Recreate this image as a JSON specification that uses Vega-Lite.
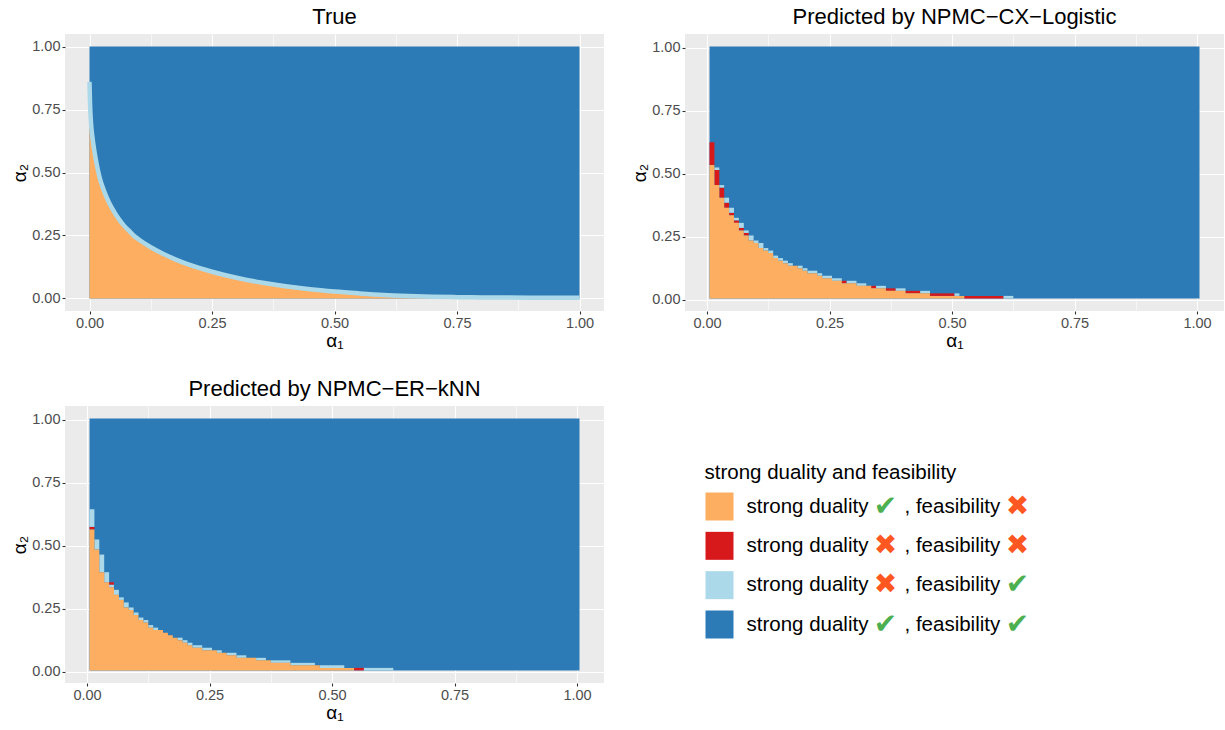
{
  "$schema": "https://vega.github.io/schema/vega-lite/v6.json",
  "background": "white",
  "padding": {"left": 10, "top": 6, "right": 0, "bottom": 0},
  "datasets": {
    "tiles": [
      {"p":"True","x0":0,"x1":1,"y0":0,"y1":1,"c":"both"},
      {"p":"CX","x0":0.005,"x1":1.005,"y0":0.005,"y1":1.005,"c":"both"},
      {"p":"CX","x0":0.005,"x1":0.015,"y0":0.535,"y1":0.625,"c":"none"},
      {"p":"CX","x0":0.015,"x1":0.025,"y0":0.455,"y1":0.515,"c":"none"},
      {"p":"CX","x0":0.025,"x1":0.035,"y0":0.405,"y1":0.445,"c":"none"},
      {"p":"CX","x0":0.035,"x1":0.045,"y0":0.365,"y1":0.385,"c":"none"},
      {"p":"CX","x0":0.045,"x1":0.055,"y0":0.335,"y1":0.345,"c":"none"},
      {"p":"CX","x0":0.055,"x1":0.065,"y0":0.305,"y1":0.315,"c":"none"},
      {"p":"CX","x0":0.065,"x1":0.075,"y0":0.275,"y1":0.285,"c":"none"},
      {"p":"CX","x0":0.075,"x1":0.085,"y0":0.255,"y1":0.265,"c":"none"},
      {"p":"CX","x0":0.275,"x1":0.285,"y0":0.065,"y1":0.075,"c":"none"},
      {"p":"CX","x0":0.335,"x1":0.345,"y0":0.045,"y1":0.055,"c":"none"},
      {"p":"CX","x0":0.365,"x1":0.385,"y0":0.035,"y1":0.045,"c":"none"},
      {"p":"CX","x0":0.405,"x1":0.435,"y0":0.025,"y1":0.035,"c":"none"},
      {"p":"CX","x0":0.455,"x1":0.505,"y0":0.015,"y1":0.025,"c":"none"},
      {"p":"CX","x0":0.525,"x1":0.605,"y0":0.005,"y1":0.015,"c":"none"},
      {"p":"CX","x0":0.015,"x1":0.025,"y0":0.515,"y1":0.525,"c":"feas"},
      {"p":"CX","x0":0.025,"x1":0.035,"y0":0.445,"y1":0.455,"c":"feas"},
      {"p":"CX","x0":0.035,"x1":0.045,"y0":0.385,"y1":0.405,"c":"feas"},
      {"p":"CX","x0":0.045,"x1":0.055,"y0":0.345,"y1":0.365,"c":"feas"},
      {"p":"CX","x0":0.055,"x1":0.065,"y0":0.315,"y1":0.325,"c":"feas"},
      {"p":"CX","x0":0.065,"x1":0.075,"y0":0.285,"y1":0.305,"c":"feas"},
      {"p":"CX","x0":0.075,"x1":0.085,"y0":0.265,"y1":0.275,"c":"feas"},
      {"p":"CX","x0":0.085,"x1":0.095,"y0":0.235,"y1":0.255,"c":"feas"},
      {"p":"CX","x0":0.095,"x1":0.105,"y0":0.225,"y1":0.235,"c":"feas"},
      {"p":"CX","x0":0.105,"x1":0.115,"y0":0.205,"y1":0.225,"c":"feas"},
      {"p":"CX","x0":0.115,"x1":0.125,"y0":0.195,"y1":0.205,"c":"feas"},
      {"p":"CX","x0":0.125,"x1":0.135,"y0":0.185,"y1":0.195,"c":"feas"},
      {"p":"CX","x0":0.135,"x1":0.145,"y0":0.165,"y1":0.175,"c":"feas"},
      {"p":"CX","x0":0.145,"x1":0.155,"y0":0.155,"y1":0.165,"c":"feas"},
      {"p":"CX","x0":0.155,"x1":0.165,"y0":0.145,"y1":0.155,"c":"feas"},
      {"p":"CX","x0":0.165,"x1":0.175,"y0":0.135,"y1":0.145,"c":"feas"},
      {"p":"CX","x0":0.185,"x1":0.195,"y0":0.125,"y1":0.135,"c":"feas"},
      {"p":"CX","x0":0.195,"x1":0.205,"y0":0.115,"y1":0.125,"c":"feas"},
      {"p":"CX","x0":0.205,"x1":0.225,"y0":0.105,"y1":0.115,"c":"feas"},
      {"p":"CX","x0":0.225,"x1":0.235,"y0":0.095,"y1":0.105,"c":"feas"},
      {"p":"CX","x0":0.235,"x1":0.255,"y0":0.085,"y1":0.095,"c":"feas"},
      {"p":"CX","x0":0.255,"x1":0.275,"y0":0.075,"y1":0.085,"c":"feas"},
      {"p":"CX","x0":0.285,"x1":0.305,"y0":0.065,"y1":0.075,"c":"feas"},
      {"p":"CX","x0":0.305,"x1":0.325,"y0":0.055,"y1":0.065,"c":"feas"},
      {"p":"CX","x0":0.345,"x1":0.365,"y0":0.045,"y1":0.055,"c":"feas"},
      {"p":"CX","x0":0.385,"x1":0.405,"y0":0.035,"y1":0.045,"c":"feas"},
      {"p":"CX","x0":0.435,"x1":0.455,"y0":0.025,"y1":0.035,"c":"feas"},
      {"p":"CX","x0":0.505,"x1":0.515,"y0":0.015,"y1":0.025,"c":"feas"},
      {"p":"CX","x0":0.605,"x1":0.625,"y0":0.005,"y1":0.015,"c":"feas"},
      {"p":"ER","x0":0.005,"x1":1.005,"y0":0.005,"y1":1.005,"c":"both"},
      {"p":"ER","x0":0.005,"x1":0.015,"y0":0.565,"y1":0.575,"c":"none"},
      {"p":"ER","x0":0.045,"x1":0.055,"y0":0.345,"y1":0.355,"c":"none"},
      {"p":"ER","x0":0.545,"x1":0.565,"y0":0.005,"y1":0.015,"c":"none"},
      {"p":"ER","x0":0.005,"x1":0.015,"y0":0.575,"y1":0.645,"c":"feas"},
      {"p":"ER","x0":0.015,"x1":0.025,"y0":0.485,"y1":0.525,"c":"feas"},
      {"p":"ER","x0":0.025,"x1":0.035,"y0":0.395,"y1":0.465,"c":"feas"},
      {"p":"ER","x0":0.035,"x1":0.045,"y0":0.355,"y1":0.395,"c":"feas"},
      {"p":"ER","x0":0.045,"x1":0.055,"y0":0.335,"y1":0.345,"c":"feas"},
      {"p":"ER","x0":0.055,"x1":0.065,"y0":0.305,"y1":0.325,"c":"feas"},
      {"p":"ER","x0":0.065,"x1":0.075,"y0":0.285,"y1":0.295,"c":"feas"},
      {"p":"ER","x0":0.075,"x1":0.085,"y0":0.255,"y1":0.275,"c":"feas"},
      {"p":"ER","x0":0.085,"x1":0.095,"y0":0.245,"y1":0.255,"c":"feas"},
      {"p":"ER","x0":0.095,"x1":0.105,"y0":0.225,"y1":0.235,"c":"feas"},
      {"p":"ER","x0":0.105,"x1":0.115,"y0":0.205,"y1":0.215,"c":"feas"},
      {"p":"ER","x0":0.115,"x1":0.125,"y0":0.195,"y1":0.205,"c":"feas"},
      {"p":"ER","x0":0.125,"x1":0.135,"y0":0.175,"y1":0.185,"c":"feas"},
      {"p":"ER","x0":0.135,"x1":0.145,"y0":0.165,"y1":0.175,"c":"feas"},
      {"p":"ER","x0":0.185,"x1":0.195,"y0":0.125,"y1":0.135,"c":"feas"},
      {"p":"ER","x0":0.195,"x1":0.205,"y0":0.115,"y1":0.125,"c":"feas"},
      {"p":"ER","x0":0.205,"x1":0.215,"y0":0.105,"y1":0.115,"c":"feas"},
      {"p":"ER","x0":0.215,"x1":0.235,"y0":0.095,"y1":0.105,"c":"feas"},
      {"p":"ER","x0":0.235,"x1":0.255,"y0":0.085,"y1":0.095,"c":"feas"},
      {"p":"ER","x0":0.265,"x1":0.275,"y0":0.075,"y1":0.085,"c":"feas"},
      {"p":"ER","x0":0.285,"x1":0.305,"y0":0.065,"y1":0.075,"c":"feas"},
      {"p":"ER","x0":0.305,"x1":0.325,"y0":0.055,"y1":0.065,"c":"feas"},
      {"p":"ER","x0":0.345,"x1":0.365,"y0":0.045,"y1":0.055,"c":"feas"},
      {"p":"ER","x0":0.375,"x1":0.415,"y0":0.035,"y1":0.045,"c":"feas"},
      {"p":"ER","x0":0.415,"x1":0.465,"y0":0.025,"y1":0.035,"c":"feas"},
      {"p":"ER","x0":0.475,"x1":0.525,"y0":0.015,"y1":0.025,"c":"feas"},
      {"p":"ER","x0":0.565,"x1":0.625,"y0":0.005,"y1":0.015,"c":"feas"}
    ],
    "orange": [
      {"p":"CX","x":0.005,"y":0.535},{"p":"CX","x":0.015,"y":0.455},{"p":"CX","x":0.025,"y":0.405},
      {"p":"CX","x":0.035,"y":0.365},{"p":"CX","x":0.045,"y":0.335},{"p":"CX","x":0.055,"y":0.305},
      {"p":"CX","x":0.065,"y":0.275},{"p":"CX","x":0.075,"y":0.255},{"p":"CX","x":0.085,"y":0.235},
      {"p":"CX","x":0.095,"y":0.225},{"p":"CX","x":0.105,"y":0.205},{"p":"CX","x":0.115,"y":0.195},
      {"p":"CX","x":0.125,"y":0.185},{"p":"CX","x":0.135,"y":0.165},{"p":"CX","x":0.145,"y":0.155},
      {"p":"CX","x":0.155,"y":0.145},{"p":"CX","x":0.165,"y":0.135},{"p":"CX","x":0.185,"y":0.125},
      {"p":"CX","x":0.195,"y":0.115},{"p":"CX","x":0.205,"y":0.105},{"p":"CX","x":0.225,"y":0.095},
      {"p":"CX","x":0.235,"y":0.085},{"p":"CX","x":0.255,"y":0.075},{"p":"CX","x":0.275,"y":0.065},
      {"p":"CX","x":0.305,"y":0.055},{"p":"CX","x":0.335,"y":0.045},{"p":"CX","x":0.365,"y":0.035},
      {"p":"CX","x":0.405,"y":0.025},{"p":"CX","x":0.455,"y":0.015},{"p":"CX","x":0.525,"y":0.015},
      {"p":"ER","x":0.005,"y":0.565},{"p":"ER","x":0.015,"y":0.485},{"p":"ER","x":0.025,"y":0.395},
      {"p":"ER","x":0.035,"y":0.355},{"p":"ER","x":0.045,"y":0.335},{"p":"ER","x":0.055,"y":0.305},
      {"p":"ER","x":0.065,"y":0.285},{"p":"ER","x":0.075,"y":0.255},{"p":"ER","x":0.085,"y":0.245},
      {"p":"ER","x":0.095,"y":0.225},{"p":"ER","x":0.105,"y":0.205},{"p":"ER","x":0.115,"y":0.195},
      {"p":"ER","x":0.125,"y":0.175},{"p":"ER","x":0.135,"y":0.165},{"p":"ER","x":0.155,"y":0.155},
      {"p":"ER","x":0.165,"y":0.145},{"p":"ER","x":0.175,"y":0.135},{"p":"ER","x":0.185,"y":0.125},
      {"p":"ER","x":0.195,"y":0.115},{"p":"ER","x":0.205,"y":0.105},{"p":"ER","x":0.215,"y":0.095},
      {"p":"ER","x":0.235,"y":0.085},{"p":"ER","x":0.265,"y":0.075},{"p":"ER","x":0.285,"y":0.065},
      {"p":"ER","x":0.305,"y":0.055},{"p":"ER","x":0.345,"y":0.045},{"p":"ER","x":0.375,"y":0.035},
      {"p":"ER","x":0.415,"y":0.025},{"p":"ER","x":0.475,"y":0.015},{"p":"ER","x":0.545,"y":0.015}
    ],
    "curve": [
      {"x":0,"y":0.86},{"x":0.001,"y":0.78},{"x":0.003,"y":0.7},{"x":0.006,"y":0.64},
      {"x":0.01,"y":0.585},{"x":0.015,"y":0.53},{"x":0.02,"y":0.485},{"x":0.03,"y":0.425},
      {"x":0.04,"y":0.38},{"x":0.05,"y":0.345},{"x":0.06,"y":0.315},{"x":0.07,"y":0.29},
      {"x":0.08,"y":0.27},{"x":0.09,"y":0.25},{"x":0.1,"y":0.235},{"x":0.125,"y":0.203},
      {"x":0.15,"y":0.177},{"x":0.175,"y":0.155},{"x":0.2,"y":0.136},{"x":0.225,"y":0.12},
      {"x":0.25,"y":0.106},{"x":0.3,"y":0.082},{"x":0.35,"y":0.063},{"x":0.4,"y":0.048},
      {"x":0.45,"y":0.036},{"x":0.5,"y":0.027},{"x":0.55,"y":0.02},{"x":0.6,"y":0.014},
      {"x":0.65,"y":0.01},{"x":0.7,"y":0.007},{"x":0.75,"y":0.005},{"x":0.8,"y":0.004},
      {"x":0.9,"y":0.003},{"x":1.0,"y":0.003}
    ],
    "legend": [
      {"item":1,"c":"sd","t1":"strong duality","g1":"✔","t2":", feasibility","g2":"✖"},
      {"item":2,"c":"none","t1":"strong duality","g1":"✖","t2":", feasibility","g2":"✖"},
      {"item":3,"c":"feas","t1":"strong duality","g1":"✖","t2":", feasibility","g2":"✔"},
      {"item":4,"c":"both","t1":"strong duality","g1":"✔","t2":", feasibility","g2":"✔"}
    ]
  },
  "columns": 2,
  "spacing": {"row": 95, "column": 81},
  "bounds": "flush",
  "concat": [
    {
      "title": "True",
      "width": 539,
      "height": 277,
      "layer": [
        {
          "data": {"name": "tiles"},
          "transform": [{"filter": "datum.p == 'True'"}],
          "mark": {"type": "rect"},
          "encoding": {
            "x": {"field": "x0", "type": "quantitative", "title": "α₁",
              "scale": {"domain": [-0.05, 1.05], "nice": false, "zero": false},
              "axis": {"values": [0,0.125,0.25,0.375,0.5,0.625,0.75,0.875,1],
                "labelExpr": "datum.value*4%1==0 ? format(datum.value,'.2f') : ''",
                "tickOpacity": {"condition": {"test": "datum.value*4%1!=0", "value": 0}, "value": 1},
                "gridWidth": {"condition": {"test": "datum.value*4%1!=0", "value": 0.55}, "value": 1.1}}},
            "x2": {"field": "x1"},
            "y": {"field": "y0", "type": "quantitative", "title": "α₂",
              "scale": {"domain": [-0.05, 1.05], "nice": false, "zero": false},
              "axis": {"values": [0,0.125,0.25,0.375,0.5,0.625,0.75,0.875,1],
                "labelExpr": "datum.value*4%1==0 ? format(datum.value,'.2f') : ''",
                "tickOpacity": {"condition": {"test": "datum.value*4%1!=0", "value": 0}, "value": 1},
                "gridWidth": {"condition": {"test": "datum.value*4%1!=0", "value": 0.55}, "value": 1.1}}},
            "y2": {"field": "y1"},
            "color": {"field": "c", "type": "nominal", "legend": null,
              "scale": {"domain": ["sd","none","feas","both"], "range": ["#FDAE61","#D7191C","#ABD9E9","#2C7BB6"]}}
          }
        },
        {
          "data": {"name": "curve"},
          "mark": {"type": "area", "interpolate": "monotone", "color": "#FDAE61"},
          "encoding": {
            "x": {"field": "x", "type": "quantitative", "title": "α₁", "scale": {"domain": [-0.05, 1.05], "nice": false, "zero": false}},
            "y": {"field": "y", "type": "quantitative", "title": "α₂", "scale": {"domain": [-0.05, 1.05], "nice": false, "zero": false}},
            "y2": {"datum": 0}
          }
        },
        {
          "data": {"name": "curve"},
          "mark": {"type": "line", "interpolate": "monotone", "color": "#ABD9E9", "strokeWidth": 4.5},
          "encoding": {
            "x": {"field": "x", "type": "quantitative", "title": "α₁", "scale": {"domain": [-0.05, 1.05], "nice": false, "zero": false}},
            "y": {"field": "y", "type": "quantitative", "title": "α₂", "scale": {"domain": [-0.05, 1.05], "nice": false, "zero": false}}
          }
        }
      ]
    },
    {
      "title": "Predicted by NPMC−CX−Logistic",
      "width": 539,
      "height": 277,
      "layer": [
        {
          "data": {"name": "tiles"},
          "transform": [{"filter": "datum.p == 'CX'"}],
          "mark": {"type": "rect"},
          "encoding": {
            "x": {"field": "x0", "type": "quantitative", "title": "α₁",
              "scale": {"domain": [-0.045, 1.055], "nice": false, "zero": false},
              "axis": {"values": [0,0.125,0.25,0.375,0.5,0.625,0.75,0.875,1],
                "labelExpr": "datum.value*4%1==0 ? format(datum.value,'.2f') : ''",
                "tickOpacity": {"condition": {"test": "datum.value*4%1!=0", "value": 0}, "value": 1},
                "gridWidth": {"condition": {"test": "datum.value*4%1!=0", "value": 0.55}, "value": 1.1}}},
            "x2": {"field": "x1"},
            "y": {"field": "y0", "type": "quantitative", "title": "α₂",
              "scale": {"domain": [-0.045, 1.055], "nice": false, "zero": false},
              "axis": {"values": [0,0.125,0.25,0.375,0.5,0.625,0.75,0.875,1],
                "labelExpr": "datum.value*4%1==0 ? format(datum.value,'.2f') : ''",
                "tickOpacity": {"condition": {"test": "datum.value*4%1!=0", "value": 0}, "value": 1},
                "gridWidth": {"condition": {"test": "datum.value*4%1!=0", "value": 0.55}, "value": 1.1}}},
            "y2": {"field": "y1"},
            "color": {"field": "c", "type": "nominal", "legend": null,
              "scale": {"domain": ["sd","none","feas","both"], "range": ["#FDAE61","#D7191C","#ABD9E9","#2C7BB6"]}}
          }
        },
        {
          "data": {"name": "orange"},
          "transform": [{"filter": "datum.p == 'CX'"}],
          "mark": {"type": "area", "interpolate": "step-after", "color": "#FDAE61"},
          "encoding": {
            "x": {"field": "x", "type": "quantitative", "title": "α₁", "scale": {"domain": [-0.045, 1.055], "nice": false, "zero": false}},
            "y": {"field": "y", "type": "quantitative", "title": "α₂", "scale": {"domain": [-0.045, 1.055], "nice": false, "zero": false}},
            "y2": {"datum": 0.005}
          }
        }
      ]
    },
    {
      "title": "Predicted by NPMC−ER−kNN",
      "width": 539,
      "height": 277,
      "layer": [
        {
          "data": {"name": "tiles"},
          "transform": [{"filter": "datum.p == 'ER'"}],
          "mark": {"type": "rect"},
          "encoding": {
            "x": {"field": "x0", "type": "quantitative", "title": "α₁",
              "scale": {"domain": [-0.045, 1.055], "nice": false, "zero": false},
              "axis": {"values": [0,0.125,0.25,0.375,0.5,0.625,0.75,0.875,1],
                "labelExpr": "datum.value*4%1==0 ? format(datum.value,'.2f') : ''",
                "tickOpacity": {"condition": {"test": "datum.value*4%1!=0", "value": 0}, "value": 1},
                "gridWidth": {"condition": {"test": "datum.value*4%1!=0", "value": 0.55}, "value": 1.1}}},
            "x2": {"field": "x1"},
            "y": {"field": "y0", "type": "quantitative", "title": "α₂",
              "scale": {"domain": [-0.045, 1.055], "nice": false, "zero": false},
              "axis": {"values": [0,0.125,0.25,0.375,0.5,0.625,0.75,0.875,1],
                "labelExpr": "datum.value*4%1==0 ? format(datum.value,'.2f') : ''",
                "tickOpacity": {"condition": {"test": "datum.value*4%1!=0", "value": 0}, "value": 1},
                "gridWidth": {"condition": {"test": "datum.value*4%1!=0", "value": 0.55}, "value": 1.1}}},
            "y2": {"field": "y1"},
            "color": {"field": "c", "type": "nominal", "legend": null,
              "scale": {"domain": ["sd","none","feas","both"], "range": ["#FDAE61","#D7191C","#ABD9E9","#2C7BB6"]}}
          }
        },
        {
          "data": {"name": "orange"},
          "transform": [{"filter": "datum.p == 'ER'"}],
          "mark": {"type": "area", "interpolate": "step-after", "color": "#FDAE61"},
          "encoding": {
            "x": {"field": "x", "type": "quantitative", "title": "α₁", "scale": {"domain": [-0.045, 1.055], "nice": false, "zero": false}},
            "y": {"field": "y", "type": "quantitative", "title": "α₂", "scale": {"domain": [-0.045, 1.055], "nice": false, "zero": false}},
            "y2": {"datum": 0.005}
          }
        }
      ]
    },
    {
      "width": 535,
      "height": 277,
      "view": {"fill": null, "stroke": null},
      "title": {"text": "strong duality and feasibility", "anchor": "start", "fontSize": 20.5, "dx": 19.5, "offset": -93, "baseline": "alphabetic"},
      "data": {"name": "legend"},
      "encoding": {
        "y": {"field": "item", "type": "quantitative", "axis": null,
          "scale": {"domain": [1, 4], "range": [100.5, 218.5], "nice": false, "zero": false}}
      },
      "layer": [
        {
          "mark": {"type": "square", "size": 784, "opacity": 1, "filled": true},
          "encoding": {
            "x": {"datum": 34.5, "type": "quantitative", "axis": null, "scale": {"domain": [0, 535], "nice": false, "zero": false}},
            "color": {"field": "c", "type": "nominal", "legend": null,
              "scale": {"domain": ["sd","none","feas","both"], "range": ["#FDAE61","#D7191C","#ABD9E9","#2C7BB6"]}}
          }
        },
        {
          "mark": {"type": "text", "align": "left", "baseline": "middle", "fontSize": 20.5, "color": "#000000"},
          "encoding": {
            "x": {"datum": 61.5, "type": "quantitative", "axis": null, "scale": {"domain": [0, 535], "nice": false, "zero": false}},
            "text": {"field": "t1"}
          }
        },
        {
          "mark": {"type": "text", "align": "center", "baseline": "middle", "fontSize": 28, "font": "DejaVu Sans"},
          "encoding": {
            "x": {"datum": 200.5, "type": "quantitative", "axis": null, "scale": {"domain": [0, 535], "nice": false, "zero": false}},
            "text": {"field": "g1"},
            "color": {"condition": {"test": "datum.g1 == '✔'", "value": "#4CAF50"}, "value": "#FF5722"}
          }
        },
        {
          "mark": {"type": "text", "align": "left", "baseline": "middle", "fontSize": 20.5, "color": "#000000"},
          "encoding": {
            "x": {"datum": 219.5, "type": "quantitative", "axis": null, "scale": {"domain": [0, 535], "nice": false, "zero": false}},
            "text": {"field": "t2"}
          }
        },
        {
          "mark": {"type": "text", "align": "center", "baseline": "middle", "fontSize": 28, "font": "DejaVu Sans"},
          "encoding": {
            "x": {"datum": 332.5, "type": "quantitative", "axis": null, "scale": {"domain": [0, 535], "nice": false, "zero": false}},
            "text": {"field": "g2"},
            "color": {"condition": {"test": "datum.g2 == '✔'", "value": "#4CAF50"}, "value": "#FF5722"}
          }
        }
      ]
    }
  ],
  "config": {
    "font": "Liberation Sans",
    "view": {"fill": "#EBEBEB", "stroke": null},
    "axis": {"domain": false, "tickColor": "#333333", "tickSize": 3, "tickWidth": 1.1,
      "labelColor": "#4D4D4D", "labelFontSize": 14.5, "labelPadding": 2, "labelFlush": false, "labelOverlap": false,
      "titleFontSize": 19, "titleFontWeight": "normal", "titleColor": "#000000", "titlePadding": 2,
      "gridColor": "#FFFFFF"},
    "title": {"fontSize": 22, "fontWeight": "normal", "color": "#000000", "offset": 5, "anchor": "middle"}
  }
}
